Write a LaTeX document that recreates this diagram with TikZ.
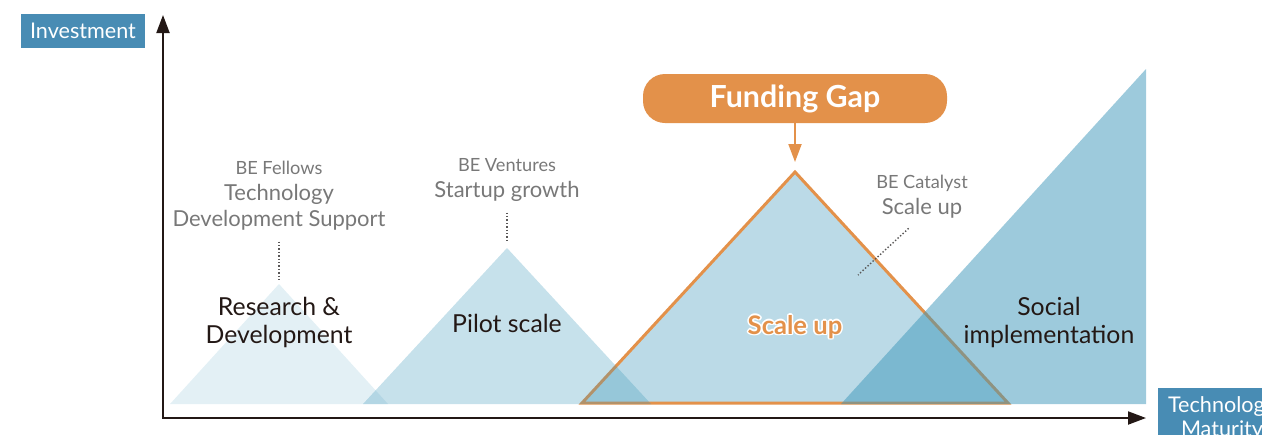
\documentclass[tikz,border=0pt]{standalone}
\usepackage{fontspec}
\setmainfont{Lato}
\usetikzlibrary{arrows.meta}

\definecolor{beblue}{RGB}{60,150,185}
\definecolor{boxblue}{RGB}{72,140,180}
\definecolor{gaporange}{RGB}{227,145,74}
\definecolor{ink}{RGB}{35,24,21}
\definecolor{note}{RGB}{120,120,120}
\definecolor{leader}{RGB}{89,87,87}

\begin{document}
\begin{tikzpicture}[x=0.5pt, y=-0.5pt,
	stage/.style = {text = ink, align = center, font = \fontsize{12.4}{14}\selectfont},
	program/.style = {text = note, align = center, font = \fontsize{11}{13}\selectfont},
	axislabel/.style = {fill = boxblue, text = white, align = center, inner sep = 0pt, font = \fontsize{10.8}{12}\selectfont},
	dots/.style = {leader, densely dotted, line width = 0.7pt},
	scalelabel/.style = {font = \bfseries\fontsize{12.8}{14}\selectfont},
	>={Triangle[length = 9pt, width = 6.5pt]}]
\useasboundingbox (0,0) rectangle (1262,434);

% stages
\coordinate (rdtop) at (279,284);
\coordinate (pilottop) at (507,248);
\coordinate (gapapex) at (795,172);
\coordinate (catdot) at (858,275);

\draw[gaporange, line width = 1.5pt, fill = beblue, fill opacity = 0.35] (582,403) -- (gapapex) -- (1008,403) -- cycle;
\fill[beblue, opacity = 0.14] (170,404) -- (rdtop) -- (388,404) -- cycle;
\fill[beblue, opacity = 0.29] (363,404) -- (pilottop) -- (651,404) -- cycle;
\fill[beblue, opacity = 0.5] (841,404) -- (1146,69) -- (1146,404) -- cycle;

% axes
\draw[ink, line width = 1pt, <->] (163,15) -- (163,418) -- (1146,418);
\node[axislabel, minimum width = 62pt, minimum height = 17pt] (invest) at (83,31) {Investment};
\node[axislabel, minimum width = 64pt, minimum height = 30pt] (maturity) at (1222,418) {Technology\\Maturity};

% labels
\node[stage] (rd) at (279,322) {Research \&\\Development};
\node[stage] (pilot) at (507,323) {Pilot scale};
\node[stage] (social) at (1049,322) {Social\\implementation};
\foreach \a in {0,45,...,315}
	\node[scalelabel, text = white, shift = {(\a:0.8pt)}] (glow\a) at (795,327) {Scale up};
\node[scalelabel, text = gaporange] (scale) at (795,327) {Scale up};

\node[program] (fellows) at (279,196) {{\fontsize{9.1}{10}\selectfont BE Fellows}\\Technology\\Development Support};
\node[program] (ventures) at (507,180) {{\fontsize{9.1}{10}\selectfont BE Ventures}\\Startup growth};
\node[program] (catalyst) at (922,197) {{\fontsize{9.1}{10}\selectfont BE Catalyst}\\Scale up};

\draw[dots, shorten < = 2pt, shorten > = 1.5pt] (fellows) -- (rdtop);
\draw[dots, shorten < = 2pt, shorten > = 2.5pt] (ventures) -- (pilottop);
\draw[dots, shorten < = 2pt] (catalyst.250) -- (catdot);

% funding gap
\node[fill = gaporange, rounded corners = 11pt, minimum width = 152pt, minimum height = 24.5pt, text = white, font = \bfseries\fontsize{15.2}{16}\selectfont] (gap) at (795,98.5) {Funding Gap};
\draw[gaporange, line width = 1pt, ->, shorten > = 5pt] (gap) -- (gapapex);
\end{tikzpicture}
\end{document}
